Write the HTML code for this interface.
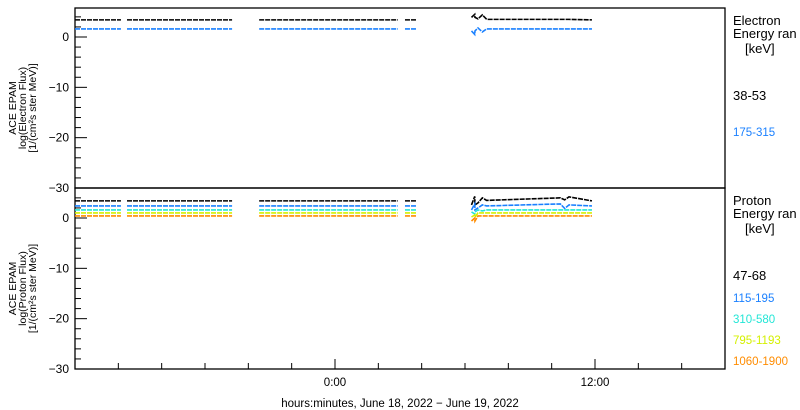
<!DOCTYPE html>
<html><head><meta charset="utf-8"><style>
body{margin:0;background:#fff;}
svg{display:block;font-family:"Liberation Sans",sans-serif;}
</style></head><body>
<svg id="c" width="800" height="410" viewBox="0 0 800 410"></svg>
<script>
// ---- data ----
const segments = [[-12,-9.88],[-9.6,-4.75],[-3.5,2.9],[3.23,3.74],[6.46,11.86]];
const electronLabels = ["38-53","175-315"];
const electronLevels = [3.4,1.6];
const protonLabels = ["47-68","115-195","310-580","795-1193","1060-1900"];
const protonLevels = [3.4,2.4,1.6,1.0,0.4];
const spikeTimes = [6.3,6.45,6.6,6.8,7.0,10.4,10.6,10.8];
const electronSpike = [[3.9,4.5,3.6,4.4,3.5,3.5,3.5,3.5],[1.2,0.5,1.8,1.0,1.6,1.6,1.6,1.6]];
const protonSpike = [[2.6,4.3,3.0,4.0,3.5,4.0,3.6,4.2],[1.6,2.8,2.0,2.6,2.4,2.8,1.9,2.6],[1.2,0.8,1.6,1.4,1.6,1.6,1.6,1.6],[0.2,0.6,1.0,1.0,1.0,1.0,1.0,1.0],[-0.6,0.0,0.4,0.4,0.4,0.4,0.4,0.4]];
const xTickHours = [-10,-8,-6,-4,-2,0,2,4,6,8,10,12,14,16];
const xTickLabels = {0:"0:00",12:"12:00"};
const yTicks = [0,-10,-20,-30];
const colors = ["#000000","#1a80ff","#22e6d6","#d4f000","#ff8c00"];

// ---- axes ----
const X0=75,X1=725,T0=-12,T1=18;
const xs = t => X0+(t-T0)/(T1-T0)*(X1-X0);
const panels=[{top:8,bot:188,zero:37,name:"electron"},{top:188,bot:369,zero:218,name:"proton"}];
const ys = (p,v) => p.zero - v*(p.bot-p.zero)/30;
const svg=document.getElementById('c');
const NS="http://www.w3.org/2000/svg";
function mk(tag,attrs,parent){const e=document.createElementNS(NS,tag);for(const k in attrs)e.setAttribute(k,attrs[k]);(parent||svg).appendChild(e);return e;}

panels.forEach((p,pi)=>{
  const g=mk('g',{});
  
  
  const fr=mk('rect',{x:X0,y:p.top,width:X1-X0,height:p.bot-p.top,fill:'none',stroke:'#000','stroke-width':1.3},g);
  
  
  for(let v=4;v>=-30;v-=2){
    const y=ys(p,v); if(y<p.top||y>p.bot)continue;
    const L=(v%10===0)?12:6;
    const tk=mk('line',{x1:X0,x2:X0+L,y1:y,y2:y,stroke:'#000','stroke-width':1},g);
    
    
  }
  yTicks.forEach(v=>{
    const t=mk('text',{x:X0-6,y:ys(p,v)+4,'text-anchor':'end','font-size':12},g);
    t.textContent=(v<0?"\u2212"+(-v):v);
    
    
  });
  const lines = pi===0?["ACE EPAM","log(Electron Flux)","[1/(cm\u00b2s ster MeV)]"]:["ACE EPAM","log(Proton Flux)","[1/(cm\u00b2s ster MeV)]"];
  const cy=(p.top+p.bot)/2+10;
  const tt=mk('text',{transform:`translate(16,${cy}) rotate(-90)`,'text-anchor':'middle','font-size':10.5},g);
  
  
  lines.forEach((s,i)=>{const ts=mk('tspan',{x:0,dy:i?10:0},tt);ts.textContent=s;});
  // series
  const levels=pi===0?electronLevels:protonLevels;
  const spikes=pi===0?electronSpike:protonSpike;
  const labels=pi===0?electronLabels:protonLabels;
  levels.forEach((lv,si)=>{
    const col=colors[si];
    segments.forEach((s,k)=>{
      let pts=[];
      if(k===4){
        pts.push([s[0],spikes[si][0]]);
        spikeTimes.forEach((t,j)=>pts.push([t,spikes[si][j]]));
        pts.push([s[1],lv]);
      } else pts=[[s[0],lv],[s[1],lv]];
      pts.sort((a,b)=>a[0]-b[0]);
      const pl=mk('polyline',{points:pts.map(q=>xs(q[0])+','+ys(p,q[1])).join(' '),fill:'none',stroke:col,'stroke-width':1.6,'stroke-dasharray':'5 1'},g);
      
      
    });
  });
  // legend
  const lx=733;
  const h=[pi===0?"Electron":"Proton","Energy ran"];
  h.forEach((s,i)=>{const t=mk('text',{x:lx,y:p.top+17+i*13,'font-size':13},g);t.textContent=s;
    
    });
  const kv=mk('text',{x:lx+12,y:p.top+45,'font-size':13},g);kv.textContent="[keV]";
  
  
  const ly=pi===0?[96,132]:[276,298,319,340,361];
  labels.forEach((s,i)=>{
    const t=mk('text',{x:lx,y:ly[i]+4,'font-size':i===0?13:11.5,fill:colors[i]},g);t.textContent=s;
    
    
  });
});
// x ticks
xTickHours.forEach(h=>{
  const x=xs(h);const L=(h%12===0)?10:6;
  const t=mk('line',{x1:x,x2:x,y1:369,y2:369-L,stroke:'#000','stroke-width':1});
  
  
  if(xTickLabels[h]!==undefined){
    const tx=mk('text',{x:x,y:386,'text-anchor':'middle','font-size':11.5});tx.textContent=xTickLabels[h];
    
    
  }
});
const xt=mk('text',{x:400,y:407,'text-anchor':'middle','font-size':11.5});
xt.textContent="hours:minutes, June 18, 2022 \u2212 June 19, 2022";


</script>
</body></html>
